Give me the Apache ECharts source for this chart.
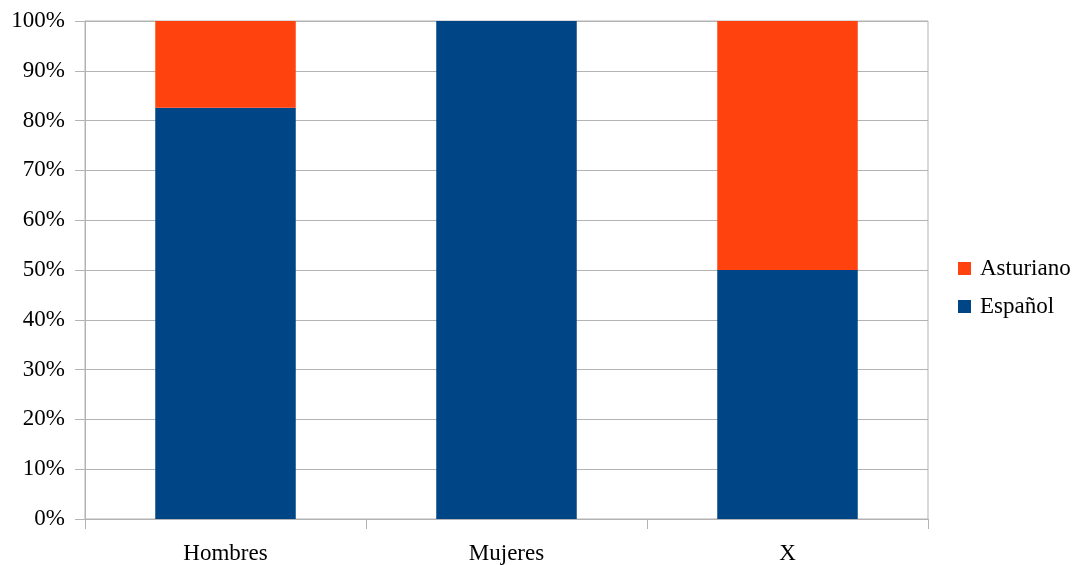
<!DOCTYPE html>
<html>
<head>
<meta charset="utf-8">
<script src="https://cdn.jsdelivr.net/npm/echarts@6/dist/echarts.min.js"></script>
<style>
html,body{margin:0;padding:0;background:#fff;}
#c{width:1077px;height:565px;}
</style>
</head>
<body>
<div id="c"></div>
<script>
const categories = ['Hombres', 'Mujeres', 'X'];
const espanol = [82.6, 100, 50];
const asturiano = [17.4, 0, 50];
const yTicks = [0, 10, 20, 30, 40, 50, 60, 70, 80, 90, 100];

const font = '"Liberation Serif", "DejaVu Serif", serif';
const chart = echarts.init(document.getElementById('c'));
chart.setOption({
  animation: false,
  backgroundColor: '#ffffff',
  textStyle: { fontFamily: font },
  grid: { left: 85, right: 149, top: 21, bottom: 46, show: true, borderColor: '#b3b3b3', borderWidth: 1 },
  legend: {
    orient: 'vertical', left: 958, top: 257, padding: 0,
    data: ['Asturiano', 'Español'],
    icon: 'rect', itemWidth: 13, itemHeight: 13, itemGap: 15,
    textStyle: { fontFamily: font, fontSize: 23, color: '#000', padding: [0, 0, 0, 4] }
  },
  xAxis: {
    type: 'category', data: categories,
    axisLine: { show: true, lineStyle: { color: '#b3b3b3' } },
    axisTick: { show: true, length: 10, lineStyle: { color: '#b3b3b3' } },
    axisLabel: { fontFamily: font, fontSize: 23, color: '#000', margin: 23 }
  },
  yAxis: {
    type: 'value', min: 0, max: 100, interval: 10,
    axisLine: { show: true, lineStyle: { color: '#b3b3b3' } },
    axisTick: { show: true, length: 10, lineStyle: { color: '#b3b3b3' } },
    splitLine: { show: true, lineStyle: { color: '#b3b3b3' } },
    axisLabel: { fontFamily: font, fontSize: 23, color: '#000', margin: 20,
      formatter: v => yTicks.includes(v) ? v + '%' : '' }
  },
  series: [
    { name: 'Español', type: 'bar', stack: 's', data: espanol, barWidth: '50%', itemStyle: { color: '#004586' } },
    { name: 'Asturiano', type: 'bar', stack: 's', data: asturiano, barWidth: '50%', itemStyle: { color: '#ff420e' } }
  ]
});
</script>
</body>
</html>
